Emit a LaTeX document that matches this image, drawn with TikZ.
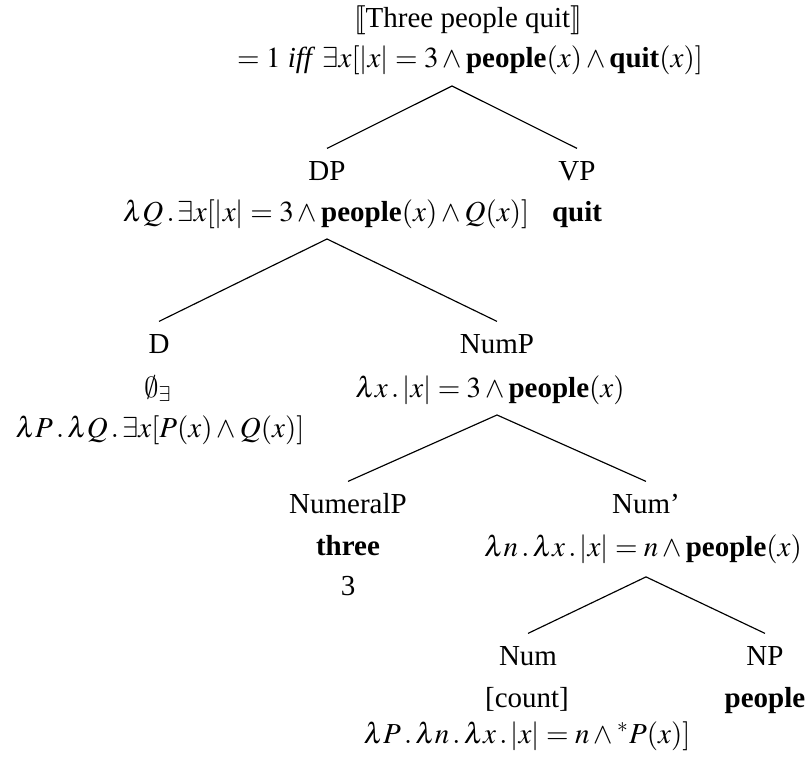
\documentclass[tikz,border=0pt]{standalone}
\usepackage{mathptmx}
\usepackage{stmaryrd}
\usepackage{fontspec}
\setmainfont{Liberation Serif}
\DeclareSymbolFont{cmsymbols}{OMS}{cmsy}{m}{n}
\DeclareMathSymbol{\cmemptyset}{\mathord}{cmsymbols}{"3B}
\tikzset{
  lab/.style={anchor=base, inner sep=0pt, text height=10.7pt, text depth=0pt},
  sem/.style={anchor=base, inner sep=0pt},
  bot/.style={anchor=base, inner sep=0pt, text depth=6pt},
  branch/.style={draw, line width=0.4pt}
}
\begin{document}
\begin{tikzpicture}[x=0.3448pt, y=-0.3448pt, every node/.style={font=\fontsize{10}{12}\selectfont}]
\useasboundingbox (0,0) rectangle (808,762);
% root
\node[sem] (title) at (468,27) {$\llbracket$Three people quit$\rrbracket$};
\node[bot] (rootf) at (470,67) {$= 1$ \textit{iff} $\exists x[|x| = 3 \wedge \textbf{people}(x) \wedge \textbf{quit}(x)]$};
\coordinate (rootapex) at (452,86);
% DP / VP
\node[lab] (DP) at (327,180) {DP};
\node[bot] (DPf) at (326,221) {$\lambda Q\,.\,\exists x[|x| = 3\wedge\textbf{people}(x)\wedge Q(x)]$};
\node[lab] (VP) at (577,180) {VP};
\node[sem] (VPf) at (577,221) {\textbf{quit}};
% D / NumP
\node[lab] (D) at (159,353) {D};
\node[sem] (D1) at (158,397) {$\cmemptyset_\exists$};
\node[sem] (D2) at (160,437) {$\lambda P\,.\,\lambda Q\,.\,\exists x[P(x)\wedge Q(x)]$};
\node[lab] (NumP) at (497,353) {NumP};
\node[bot] (NumPf) at (490,397) {$\lambda x\,.\,|x| = 3\wedge\textbf{people}(x)$};
% NumeralP / Num'
\node[lab] (NumeralP) at (348,513) {NumeralP};
\node[sem] (three) at (348,555) {\textbf{three}};
\node[sem] (three2) at (348,595) {3};
\node[lab] (Numbar) at (646,513) {Num'};
\node[bot, text depth=7pt] (Numbarf) at (643,556) {$\lambda n\,.\,\lambda x\,.\,|x| = n\wedge\textbf{people}(x)$};
% Num / NP
\node[lab] (Num) at (528,665) {Num};
\node[sem] (count) at (527,707) {[count]};
\node[sem] (Numf) at (527,743) {$\lambda P\,.\,\lambda n\,.\,\lambda x\,.\,|x| = n\wedge{}^*P(x)]$};
\node[lab] (NP) at (765,665) {NP};
\node[sem] (people) at (765,707) {\textbf{people}};
% branches
\draw[branch] (DP.north) -- (rootapex) -- (VP.north);
\draw[branch] (D.north) -- (DP |- DPf.south) -- (NumP.north);
\draw[branch] (NumeralP.north) -- (NumP |- NumPf.south) -- (Numbar.north);
\draw[branch] (Num.north) -- (Numbar |- Numbarf.south) -- (NP.north);
\end{tikzpicture}
\end{document}
